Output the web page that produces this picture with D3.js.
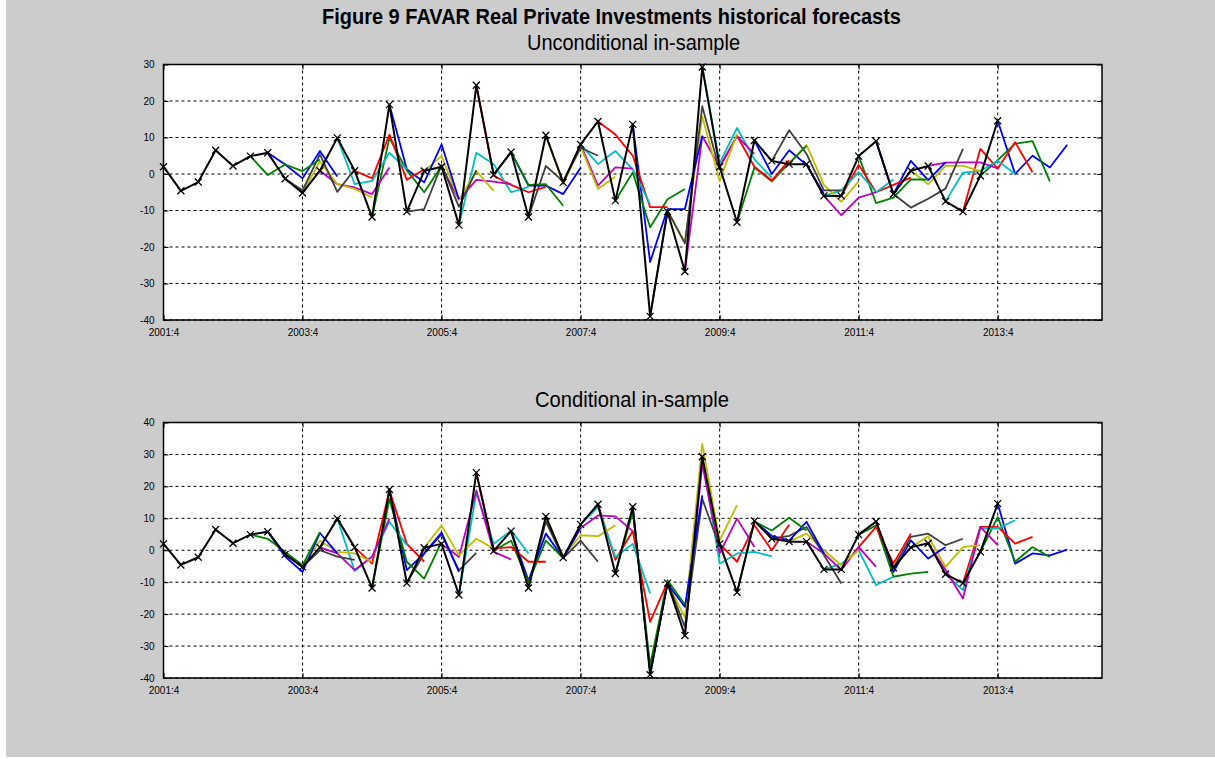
<!DOCTYPE html>
<html>
<head>
<meta charset="utf-8">
<script src="https://cdn.jsdelivr.net/npm/d3@7"></script>
<style>
body { margin: 0; background: #fff; }
text { font-family: "Liberation Sans Narrow", "Arial Narrow", "Liberation Sans", Arial, sans-serif; }
</style>
</head>
<body>
<script>
// FAVAR historical forecasts, two panels

// quarter index 0 = 2001:4, one step per quarter
var xTickIdx = [0, 8, 16, 24, 32, 40, 48],
    xTickLabels = ["2001:4", "2003:4", "2005:4", "2007:4", "2009:4", "2011:4", "2013:4"];

var yTicksTop = [-40, -30, -20, -10, 0, 10, 20, 30],
    yTicksBottom = [-40, -30, -20, -10, 0, 10, 20, 30, 40];

// realised series (black, x markers), 2001:4 .. 2013:4
var actual = [2, -4.6, -2.2, 6.5, 2.2, 4.9, 5.8, -1.3, -5.2, 0.9, 9.9, 0.9, -11.8, 19, -10.3, 0.8,
    2, -14, 24.3, -0.2, 6, -11.8, 10.6, -2.3, 8.1, 14.4, -7.3, 13.6, -39, -10.3, -26.7, 29.3,
    2, -13.2, 9.2, 3.6, 2.7, 2.7, -6, -6, 4.9, 9, -5.5, 0.9, 2.2, -7.5, -10.3, -0.5, 14.6];

// each forecast: value at origin + 4 quarters ahead; first origin is index 5
var firstOrigin = 5;

var uncondPaths = [
    [4.9, -0.3, 2.6, 0.8, 4.0],
    [5.8, 2.6, -1.2, 6.3, -0.7],
    [-1.3, -4.5, 5.4, -4.9, 1.3],
    [-5.2, 3.5, -2.8, -4.1, -6.4],
    [0.9, -2.8, -3.7, -5.5, 1.8],
    [9.9, -2.8, -1.9, 5.8, 1.3],
    [0.9, -1.2, 10.8, -1.6, 1.3],
    [-11.8, 9.9, 1, -5, 2.2],
    [19, 1.3, -2.3, 8.1, -7],
    [-10.3, -9.6, 2.5, -9, 1],
    [0.8, 4.9, -7, 0.8, -4.6],
    [2, -7, -1.6, -2.1, -2.8],
    [-14, 5.8, 2.7, -5, -3.5],
    [24.3, -0.5, -3, -5, -3.5],
    [-0.2, 6, -3, -2.8, -8.7],
    [6, -3.2, -3.2, -5.5, 1.7],
    [-11.8, 2.2, -2, 7.2, 5],
    [10.6, -2.8, 7.5, -4.1, -0.7],
    [-2.3, 8.1, -3.2, 1.8, 1.5],
    [8.1, 2.7, 6.3, 1.3, -8.3],
    [14.4, 10.8, 5, -9.1, -9.1],
    [-7.3, 0.4, -14.6, -6.9, -4.1],
    [13.6, -24.1, -9.6, -9.6, 10.4],
    [-39, -10, -19, 18.5, 1],
    [-10.3, -18.7, 15.8, -1.9, 11],
    [-26.7, 10.4, 1.8, 10.4, 5.5],
    [29.3, 3, 12.6, 4, -1],
    [2, 10.4, 2, -1.8, 3.8],
    [-13.2, 1.8, -2, 3, 7.7],
    [9.2, 0, 6.5, 2.5, -5.5],
    [3.6, 12, 5.5, -4.5, -4.5],
    [2.7, 8, -3, -7.6, -2],
    [2.7, -6, -11.3, -6.5, -5],
    [-6, -4.5, 0.5, -5, -1.5],
    [-6, 2.5, -5, -3, -1],
    [4.9, -8, -6.5, -1.5, -1.5],
    [9, -5.5, 3.6, -1.7, 3.2],
    [-5.5, -9.2, -6.8, -4, 6.9],
    [0.9, -2.8, 2.2, 2.2, 0.8],
    [2.2, 3.1, 3.2, 3.2, 1.5],
    [-7.5, 0.4, 0.8, 3.6, 0],
    [-10.3, 6.9, 1.5, 8.7, 0.5],
    [-0.5, 3.8, 8.3, 9, -2],
    [14.6, 0, 5, 1.8, 8]
];

var condPaths = [
    [4.9, 3.6, -0.5, -4.7, 5.7],
    [5.8, -2, -6.8, 5.4, -1],
    [-1.3, -5.2, 0, -2, -3],
    [-5.2, 3, -0.5, -1, -3.6],
    [0.9, -1, -6.2, -2, 9.9],
    [9.9, -6.5, -2, 8.9, 1.6],
    [0.9, -4.2, 18.7, 2, -3.6],
    [-11.8, 16, -3.6, -8.9, 2.6],
    [19, -6.2, -1, 5.5, -6.8],
    [-10.3, -1, 5, -6.3, -0.8],
    [0.8, 7.8, -1.6, 3.6, 0.5],
    [2, -2.1, 18.7, -0.5, -2.9],
    [-14, 18, 2, 6.2, -1],
    [24.3, 0.5, 1, -3.6, -3.6],
    [-0.2, 3, -10, 3, -2.5],
    [6, -9.5, 5.2, -2.5, 7],
    [-11.8, 9, -2.5, 3, -3.6],
    [10.6, -2, 4.7, 4.4, 7.8],
    [-2.3, 7, 10.9, 10.6, 6],
    [8.1, 13.5, -2.1, 2, -13.5],
    [14.4, -3, 6, -22.4, -10],
    [-7.3, 12, -36, -9.4, -17],
    [13.6, -38, -10.5, -17.7, 17.2],
    [-39, -10, -24, 16.1, 1],
    [-10.3, -21, 33.3, 3.1, 14.1],
    [-26.7, 27, -1, 9.9, 1],
    [29.3, -4.2, -1, -0.5, -1.9],
    [2, -3.6, 7.8, 0, 8],
    [-13.2, 9, 6.2, 10.2, 6.2],
    [9.2, 4.5, 3, 8.9, -1],
    [3.6, 4.5, 7.3, -1.5, -10.4],
    [2.7, 5.2, 0, -4.7, 0],
    [2.7, -1, -6.2, 1, -5.2],
    [-6, -4.2, 0, -10.9, -8.3],
    [-6, 1, 7.3, -4.2, 5.2],
    [4.9, 7.8, -8.3, -7.3, -6.8],
    [9, -6.8, 3.1, -2.6, 1],
    [-5.5, 4.2, 5.2, 1.6, 3.6],
    [0.9, 4.4, -5.2, 1, 1.6],
    [2.2, -6.2, -15.1, 7.3, 1.6],
    [-7.5, -12.5, 6.8, 6.8, 9.4],
    [-10.3, 7.3, 7.3, 2.1, 4.2],
    [-0.5, 10.4, -3.6, 1, -2.1],
    [14.6, -4.2, -1, -1.6, 0.2]
];

// matlab style colour order, last forecast is blue
var lineColors = ["#0000ff", "#008000", "#ff0000", "#00bfbf", "#bf00bf", "#bfbf00", "#404040"];

var width = 1215,
    height = 759;

var svg = d3.select("body").append("svg")
    .attr("width", width)
    .attr("height", height);

svg.append("rect")
    .attr("x", 6).attr("y", 0)
    .attr("width", width - 6).attr("height", 757)
    .attr("fill", "#cccccc");

svg.append("text")
    .attr("x", 322).attr("y", 24)
    .attr("textLength", 579).attr("lengthAdjust", "spacingAndGlyphs")
    .style("font-size", "22px").style("font-weight", "bold")
    .text("Figure 9  FAVAR Real Private Investments historical forecasts");

var x = d3.scaleLinear().domain([0, 54]).range([163.5, 1102]);

function drawPanel(top, bottom, yTicks, paths, title, titleX, titleY, titleLen)
{
    var y = d3.scaleLinear().domain([yTicks[0], yTicks[yTicks.length - 1]]).range([bottom, top]);
    var g = svg.append("g");

    svg.append("text")
        .attr("x", titleX).attr("y", titleY)
        .attr("textLength", titleLen).attr("lengthAdjust", "spacingAndGlyphs")
        .style("font-size", "22px")
        .text(title);

    g.append("rect")
        .attr("x", x.range()[0]).attr("y", top)
        .attr("width", x.range()[1] - x.range()[0]).attr("height", bottom - top)
        .attr("fill", "#fff");

    // dashed grid
    g.selectAll(".hgrid").data(yTicks).enter().append("line")
        .attr("x1", x.range()[0]).attr("x2", x.range()[1])
        .attr("y1", function(d) { return y(d); }).attr("y2", function(d) { return y(d); })
        .attr("stroke", "#000").attr("stroke-width", 1)
        .attr("stroke-dasharray", "3,3");
    g.selectAll(".vgrid").data(xTickIdx).enter().append("line")
        .attr("y1", top).attr("y2", bottom)
        .attr("x1", function(d) { return x(d); }).attr("x2", function(d) { return x(d); })
        .attr("stroke", "#000").attr("stroke-width", 1)
        .attr("stroke-dasharray", "3,3");

    // axes, ticks inside like matlab
    var left = d3.axisLeft(y).tickValues(yTicks).tickSize(-5).tickPadding(9)
        .tickFormat(function(d) { return String(d); });
    var right = d3.axisRight(y).tickValues(yTicks).tickSize(-5).tickFormat("");
    var bot = d3.axisBottom(x).tickValues(xTickIdx).tickSize(-5).tickPadding(9)
        .tickFormat(function(d, i) { return xTickLabels[i]; });
    var topAx = d3.axisTop(x).tickValues(xTickIdx).tickSize(-5).tickFormat("");

    [g.append("g").attr("transform", "translate(" + x.range()[0] + ",0)").call(left),
     g.append("g").attr("transform", "translate(" + x.range()[1] + ",0)").call(right),
     g.append("g").attr("transform", "translate(0," + bottom + ")").call(bot),
     g.append("g").attr("transform", "translate(0," + top + ")").call(topAx)]
        .forEach(function(a) {
            a.select(".domain").remove();
            a.selectAll("line").attr("stroke", "#000");
            a.selectAll("text").style("font-size", "10px").attr("fill", "#000")
                .style("font-family", "\"Liberation Sans Narrow\", \"Arial Narrow\", sans-serif");
        });

    var line = d3.line()
        .x(function(d) { return x(d[0]); })
        .y(function(d) { return y(d[1]); });

    // forecasts, latest first
    for (var k = paths.length - 1; k >= 0; k--) {
        var o = firstOrigin + k;
        var pts = paths[k].map(function(v, j) { return [o + j, v]; });
        g.append("path")
            .attr("d", line(pts))
            .attr("fill", "none")
            .attr("stroke", lineColors[(firstOrigin + paths.length - 1 - o) % 7])
            .attr("stroke-width", 1.8)
            .attr("stroke-linejoin", "round");
    }

    var act = actual.map(function(v, i) { return [i, v]; });
    g.append("path")
        .attr("d", line(act))
        .attr("fill", "none")
        .attr("stroke", "#000")
        .attr("stroke-width", 2)
        .attr("stroke-linejoin", "round");

    g.selectAll(".mk").data(act).enter().append("path")
        .attr("d", function(d) {
            var cx = x(d[0]), cy = y(d[1]), r = 3.5;
            return "M" + (cx - r) + "," + (cy - r) + "L" + (cx + r) + "," + (cy + r) +
                   "M" + (cx - r) + "," + (cy + r) + "L" + (cx + r) + "," + (cy - r);
        })
        .attr("stroke", "#000").attr("stroke-width", 1.3);

    // box on top
    g.append("rect")
        .attr("x", x.range()[0]).attr("y", top)
        .attr("width", x.range()[1] - x.range()[0]).attr("height", bottom - top)
        .attr("fill", "none").attr("stroke", "#000").attr("stroke-width", 1.5);
}

drawPanel(64.5, 320, yTicksTop, uncondPaths, "Unconditional in-sample", 527, 49.5, 213);
drawPanel(422.5, 678, yTicksBottom, condPaths, "Conditional in-sample", 535, 407, 194);
</script>
</body>
</html>
